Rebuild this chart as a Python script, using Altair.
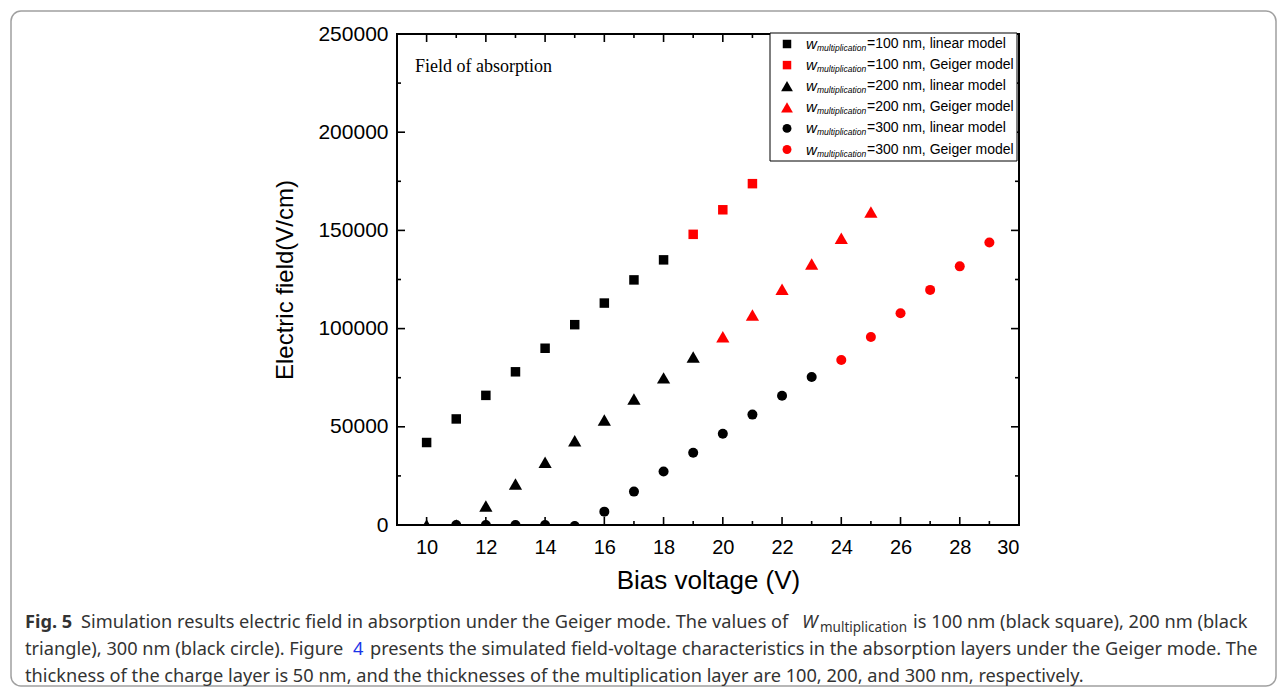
import altair as alt
import pandas as pd

# ---------------- data ----------------
x_sq_lin = [10, 11, 12, 13, 14, 15, 16, 17, 18]
y_sq_lin = [42000, 54000, 66000, 78000, 90000, 102000, 113000, 124800, 135000]
x_sq_gei = [19, 20, 21]
y_sq_gei = [148000, 160500, 173800]
x_tr_lin = [10, 11, 12, 13, 14, 15, 16, 17, 18, 19]
y_tr_lin = [0, 0, 9700, 20900, 31900, 42900, 53500, 64200, 74900, 85500]
x_tr_gei = [20, 21, 22, 23, 24, 25]
y_tr_gei = [95900, 106900, 120000, 132900, 146000, 159400]
x_ci_lin = [11, 12, 13, 14, 15, 16, 17, 18, 19, 20, 21, 22, 23]
y_ci_lin = [0, 0, 0, 0, -500, 6800, 17000, 27200, 36800, 46500, 56200, 65800, 75400]
x_ci_gei = [24, 25, 26, 27, 28, 29]
y_ci_gei = [84000, 95700, 107800, 119700, 131700, 143800]

series_labels = ["=100 nm, linear model", "=100 nm, Geiger model",
                 "=200 nm, linear model", "=200 nm, Geiger model",
                 "=300 nm, linear model", "=300 nm, Geiger model"]
series_shapes = ["square", "square", "triangle-up", "triangle-up", "circle", "circle"]
series_colors = ["#000000", "#ff0000", "#000000", "#ff0000", "#000000", "#ff0000"]
series_sizes = [90, 90, 175, 175, 100, 100]

x_major = [10, 12, 14, 16, 18, 20, 22, 24, 26, 28, 30]
x_minor = [9, 11, 13, 15, 17, 19, 21, 23, 25, 27, 29]
y_major = [0, 50000, 100000, 150000, 200000, 250000]
y_minor = [25000, 75000, 125000, 175000, 225000]

caption_l1a = "Fig. 5"
caption_l1b = "Simulation results electric field in absorption under the Geiger mode. The values of"
caption_l1c = "W"
caption_l1d = "multiplication"
caption_l1e = "is 100 nm (black square), 200 nm (black"
caption_l2a = "triangle), 300 nm (black circle). Figure"
caption_l2b = "4"
caption_l2c = "presents the simulated field-voltage characteristics in the absorption layers under the Geiger mode. The"
caption_l3 = "thickness of the charge layer is 50 nm, and the thicknesses of the multiplication layer are 100, 200, and 300 nm, respectively."

# ---------------- build tables ----------------
groups = [(x_sq_lin, y_sq_lin, 0), (x_sq_gei, y_sq_gei, 1),
          (x_tr_lin, y_tr_lin, 2), (x_tr_gei, y_tr_gei, 3),
          (x_ci_lin, y_ci_lin, 4), (x_ci_gei, y_ci_gei, 5)]
rows = []
order = 0
for xs, ys, k in groups:
    for xv, yv in zip(xs, ys):
        rows.append({"V": xv, "E": yv, "series": series_labels[k],
                     "sz": series_sizes[k], "o": order})
        order += 1
df = pd.DataFrame(rows)

W, H = 622, 491
SANS = "Liberation Sans"

xscale = alt.Scale(domain=[9, 30], nice=False, zero=False)
yscale = alt.Scale(domain=[0, 250000], nice=False, zero=False)

xaxis = alt.Axis(values=x_major, ticks=False, tickSize=0, domain=False, grid=False,
                 labelFont=SANS, labelFontSize=20, labelColor="black", labelPadding=12,
                 title="Bias voltage (V)", titleFont=SANS, titleFontSize=26,
                 titleFontWeight="normal", titleColor="black", titlePadding=10)
yaxis = alt.Axis(values=y_major, ticks=False, tickSize=0, domain=False, grid=False,
                 format="d", labelFont=SANS, labelFontSize=21, labelColor="black",
                 labelPadding=9, title="Electric field(V/cm)", titleFont=SANS,
                 titleFontSize=24, titleFontWeight="normal", titleColor="black",
                 titlePadding=20)

points = alt.Chart(df).mark_point(filled=True, opacity=1, strokeWidth=0, clip=True).encode(
    x=alt.X("V:Q", scale=xscale, axis=xaxis),
    y=alt.Y("E:Q", scale=yscale, axis=yaxis),
    shape=alt.Shape("series:N", scale=alt.Scale(domain=series_labels, range=series_shapes), legend=None),
    color=alt.Color("series:N", scale=alt.Scale(domain=series_labels, range=series_colors), legend=None),
    size=alt.Size("sz:Q", scale=None, legend=None),
    order=alt.Order("o:Q"),
)

layers = [points]

# inward ticks on all four sides
def xticks(vals, ln):
    d = pd.DataFrame({"V": vals})
    b = alt.Chart(d).mark_rule(color="black", strokeWidth=1.6).encode(
        x=alt.X("V:Q", scale=xscale, axis=xaxis), y=alt.value(H), y2=alt.value(H - ln))
    t = alt.Chart(d).mark_rule(color="black", strokeWidth=1.6).encode(
        x=alt.X("V:Q", scale=xscale, axis=xaxis), y=alt.value(0), y2=alt.value(ln))
    return [b, t]

def yticks(vals, ln):
    d = pd.DataFrame({"E": vals})
    l = alt.Chart(d).mark_rule(color="black", strokeWidth=1.6).encode(
        y=alt.Y("E:Q", scale=yscale, axis=yaxis), x=alt.value(0), x2=alt.value(ln))
    r = alt.Chart(d).mark_rule(color="black", strokeWidth=1.6).encode(
        y=alt.Y("E:Q", scale=yscale, axis=yaxis), x=alt.value(W), x2=alt.value(W - ln))
    return [l, r]

layers += xticks(x_major, 8) + xticks(x_minor, 4) + yticks(y_major, 8) + yticks(y_minor, 4)

one = pd.DataFrame({"a": [0]})

def txt(s, x, y, size, font=SANS, color="black", style="normal", weight="normal", align="left"):
    return alt.Chart(one).mark_text(align=align, baseline="middle", font=font, fontSize=size,
                                    fontStyle=style, fontWeight=weight, color=color).encode(
        x=alt.value(x), y=alt.value(y), text=alt.value(s))

# annotation
layers.append(txt("Field of absorption", 18, 33, 18, font="Liberation Serif"))

# legend box
layers.append(alt.Chart(one).mark_rect(fill="white", stroke="black", strokeWidth=1).encode(
    x=alt.value(373), x2=alt.value(620), y=alt.value(-1), y2=alt.value(127)))
for i, lab in enumerate(series_labels):
    ly = 10 + i * 21.1
    layers.append(alt.Chart(one).mark_point(filled=True, opacity=1, strokeWidth=0).encode(
        x=alt.value(390), y=alt.value(ly), shape=alt.value(series_shapes[i]),
        color=alt.value(series_colors[i]), size=alt.value(series_sizes[i] * 0.8)))
    layers.append(txt("w", 409, ly, 15, style="italic"))
    layers.append(txt("multiplication", 420, ly + 4, 8.5, style="italic"))
    layers.append(txt(lab, 470, ly, 14))

# outer rounded frame
layers.append(alt.Chart(one).mark_rect(filled=False, stroke="#a0a0a0", strokeWidth=1.5,
                                       cornerRadius=10).encode(
    x=alt.value(-386), x2=alt.value(879), y=alt.value(-23), y2=alt.value(652)))

# caption
CAP = "Noto Sans"
CC = "#333333"
FS = 18.2
X0 = 25 - 397
layers.append(txt(caption_l1a, X0, 589, FS, font=CAP, color=CC, weight="bold"))
layers.append(txt(caption_l1b, 81 - 397, 589, FS, font=CAP, color=CC))
layers.append(txt(caption_l1c, 802 - 397, 589, FS, font=CAP, color=CC, style="italic"))
layers.append(txt(caption_l1d, 820 - 397, 594, 13.5, font=CAP, color=CC))
layers.append(txt(caption_l1e, 913 - 397, 589, FS, font=CAP, color=CC))
layers.append(txt(caption_l2a, X0, 616, FS, font=CAP, color=CC))
layers.append(txt(caption_l2b, 353 - 397, 616, FS, font=CAP, color="#1a35e8"))
layers.append(txt(caption_l2c, 370 - 397, 616, FS, font=CAP, color=CC))
layers.append(txt(caption_l3, X0, 643, FS, font=CAP, color=CC))

chart = alt.layer(*layers).properties(
    width=W, height=H,
    autosize=alt.AutoSizeParams(type="none"),
    padding={"left": 389, "top": 26, "right": 260, "bottom": 162},
    background="white",
).configure_view(stroke="black", strokeWidth=2)

chart.save("out.html", embed_options={"renderer": "svg", "actions": False})
